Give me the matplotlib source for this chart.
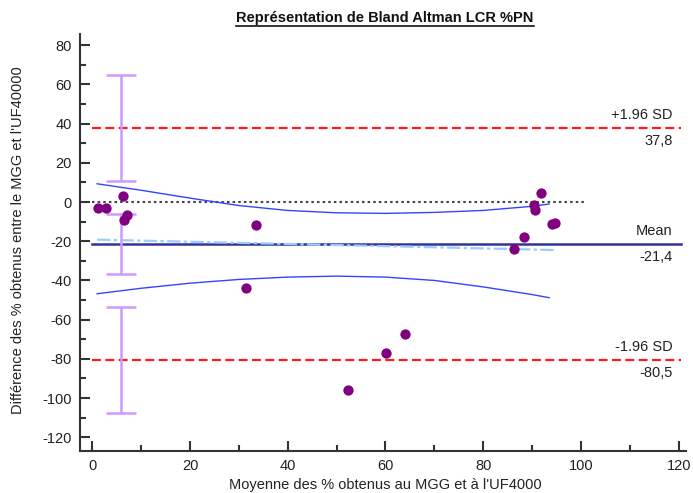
import numpy as np
from matplotlib import pyplot as plt
from matplotlib.lines import Line2D
from matplotlib.ticker import MultipleLocator

plt.rcParams['font.family'] = ['Liberation Sans', 'DejaVu Sans']
plt.rcParams['axes.unicode_minus'] = False

# points (moyenne, difference)
moyenne = [1.1, 2.9, 6.2, 6.5, 7.1, 33.5, 31.5, 52.4, 60.1, 64.0,
           91.8, 90.3, 90.5, 94.0, 94.7, 88.3, 86.4]
difference = [-2.9, -2.9, 3.1, -9.2, -6.6, -11.7, -44.0, -95.9, -77.2, -67.3,
              4.8, -1.5, -4.0, -11.2, -10.5, -18.0, -24.0]

mean_diff = -21.4
upper_loa = 37.8
lower_loa = -80.5

# confidence intervals drawn at x ~ 6
ci_x = 5.9
ci_low = [10.8, -36.9, -107.5]
ci_high = [64.8, -5.9, -53.5]

# regression line and its confidence band
reg_x = [1, 95]
reg_y = [-19.2, -24.5]
band_x = [1, 10, 20, 30, 40, 50, 60, 70, 80, 90, 93.5]
band_up = [9.3, 6.0, 2.0, -1.8, -4.3, -5.5, -5.8, -5.3, -4.3, -2.2, -1.0]
band_lo = [-46.8, -44.0, -41.4, -39.5, -38.3, -37.8, -38.3, -40.0, -43.3, -47.2, -48.8]

fig = plt.figure(figsize=(6.93, 4.93), dpi=100)
ax = fig.add_axes([80/693, 1-451/493, (686-80)/693, (451-34)/493])

ax.plot([0, 101], [0, 0], color='#444444', ls=(0, (1.2, 1.5)), lw=1.5, zorder=2)
ax.plot([0, 120.5], [upper_loa, upper_loa], color='#ff1a1a', ls=(0, (4, 2)), lw=1.6, zorder=2)
ax.plot([0, 120.5], [lower_loa, lower_loa], color='#ff1a1a', ls=(0, (4, 2)), lw=1.6, zorder=2)
ax.plot([0, 120.5], [mean_diff, mean_diff], color='#333399', lw=1.8, zorder=2)
ax.plot(reg_x, reg_y, color='#99ccff', ls=(0, (6, 1.5, 1.5, 1.5)), lw=1.6, zorder=2)
ax.plot(band_x, band_up, color='#3344ff', lw=1.0, zorder=3)
ax.plot(band_x, band_lo, color='#3344ff', lw=1.0, zorder=3)

for lo, hi in zip(ci_low, ci_high):
    ax.errorbar([ci_x], [(lo + hi) / 2], yerr=[[(hi - lo) / 2], [(hi - lo) / 2]],
                fmt='none', ecolor='#cc99ff', elinewidth=1.8, capsize=11, capthick=1.8, zorder=3)

ax.scatter(moyenne, difference, s=55, color='#800080', zorder=4, linewidths=0)

lbl = dict(ha='right', va='center', fontsize=10.5, color='#222222', textcoords='offset points')
ax.annotate('+1.96 SD', (118.8, upper_loa), xytext=(0, 9), **lbl)
ax.annotate('37,8', (118.8, upper_loa), xytext=(0, -9.5), **lbl)
ax.annotate('Mean', (118.8, mean_diff), xytext=(0, 9), **lbl)
ax.annotate('-21,4', (118.8, mean_diff), xytext=(0, -9.5), **lbl)
ax.annotate('-1.96 SD', (118.8, lower_loa), xytext=(0, 9), **lbl)
ax.annotate('-80,5', (118.8, lower_loa), xytext=(0, -9.5), **lbl)

ax.set_xlim(-2.5, 121.5)
ax.set_ylim(-127, 85.7)
ax.set_xticks(range(0, 121, 20))
ax.set_yticks(range(-120, 81, 20))
ax.xaxis.set_minor_locator(MultipleLocator(10))
ax.yaxis.set_minor_locator(MultipleLocator(10))
ax.tick_params(which='both', direction='in', width=1.5, color='#333333',
               labelsize=10.5, labelcolor='#222222')
ax.tick_params(which='major', length=7, pad=6)
ax.tick_params(which='minor', length=4)
for s in ['top', 'right']:
    ax.spines[s].set_visible(False)
for s in ['left', 'bottom']:
    ax.spines[s].set_linewidth(1.5)
    ax.spines[s].set_color('#333333')

fig.text(385/693, 1-485/493, "Moyenne des % obtenus au MGG et à l'UF4000",
         ha='center', va='center', fontsize=10.5, color='#222222')
fig.text(18/693, 1-240/493, "Différence des % obtenus entre le MGG et l'UF40000",
         ha='center', va='center', rotation=90, fontsize=10.5, color='#222222')

title = fig.text(385/693, 1-18/493, 'Représentation de Bland Altman LCR %PN',
                 ha='center', va='center', fontsize=10.5, fontweight='bold', color='#111111')
fig.canvas.draw()
bb = title.get_window_extent()
uy = (bb.y0 - 1) / fig.bbox.height
fig.add_artist(Line2D([bb.x0 / fig.bbox.width, bb.x1 / fig.bbox.width], [uy, uy],
                      color='#111111', lw=1.2))

fig.savefig('out.png', dpi=100)
